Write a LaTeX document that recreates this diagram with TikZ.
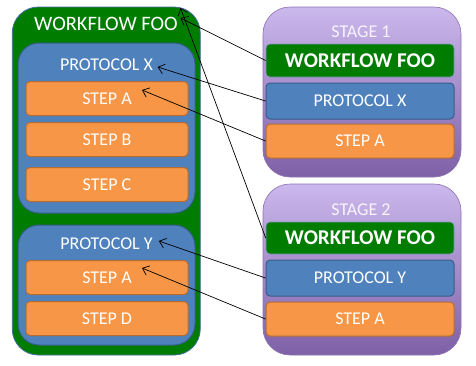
\documentclass[tikz,border=0pt]{standalone}
\usepackage{fontspec}
\setmainfont{Carlito}
\usetikzlibrary{arrows.meta}

\definecolor{wfgreen}{RGB}{0,125,0}
\definecolor{wfedge}{RGB}{70,110,160}
\definecolor{ptblue}{RGB}{79,129,189}
\definecolor{ptedge}{RGB}{56,93,138}
\definecolor{steporange}{RGB}{247,150,70}
\definecolor{stepedge}{RGB}{182,109,49}
\definecolor{stgtop}{RGB}{203,184,236}
\definecolor{stgbot}{RGB}{126,96,166}
\definecolor{stgedge}{RGB}{140,115,180}
\definecolor{stgtext}{RGB}{248,244,254}

\begin{document}
\begin{tikzpicture}[x=1pt,y=1pt,yscale=-1,
    wfbox/.style={draw=wfedge, fill=wfgreen, line width=0.8pt, rounded corners=26pt},
    protobox/.style={draw=ptedge, fill=ptblue, line width=1pt, rounded corners=21pt},
    stagebox/.style={draw=stgedge, top color=stgtop, bottom color=stgbot, line width=0.6pt, rounded corners=27pt},
    stepbox/.style={draw=stepedge, fill=steporange, line width=1pt, rounded corners=4pt,
        minimum height=34pt, text=white, font=\fontsize{18}{20}\selectfont},
    wfbar/.style={stepbox, draw=wfedge!70, fill=wfgreen, line width=0.6pt, font=\fontsize{21}{23}\selectfont\bfseries},
    protobar/.style={stepbox, draw=ptedge, fill=ptblue},
    title/.style={inner sep=0pt, text=white, font=\fontsize{18}{20}\selectfont},
    link/.style={draw=black, line width=0.7pt, -{Straight Barb[length=6pt,width=10pt]}}]
    \useasboundingbox (0,0) rectangle (476,365);

    %Workflow on the left
    \node [wfbox, minimum width=188pt, minimum height=348pt] (wf) at (106.25,181) {};
    \node [title, font=\fontsize{20.5}{22}\selectfont] (wftitle) at (106,24) {WORKFLOW FOO};

    %Protocol X with its steps
    \node [protobox, minimum width=177pt, minimum height=170pt] (px) at (106.5,128) {};
    \node [title] (pxtitle) at (106.5,65) {PROTOCOL X};
    \node [stepbox, minimum width=162pt] (xa) at (107,98.5) {STEP A};
    \node [stepbox, minimum width=162pt] (xb) at (107,139.5) {STEP B};
    \node [stepbox, minimum width=162pt] (xc) at (107,184.5) {STEP C};

    %Protocol Y with its steps
    \node [protobox, minimum width=177pt, minimum height=120pt] (py) at (106.5,285) {};
    \node [title] (pytitle) at (106.5,244) {PROTOCOL Y};
    \node [stepbox, minimum width=162pt] (ya) at (107,277.5) {STEP A};
    \node [stepbox, minimum width=162pt] (yd) at (107,318.5) {STEP D};

    %Stage 1
    \node [stagebox, minimum width=198pt, minimum height=170pt] (s1) at (362,92) {};
    \node [title, text=stgtext] (s1title) at (361,32) {STAGE 1};
    \node [wfbar, minimum width=188pt, minimum height=33pt] (s1wf) at (360,60.5) {WORKFLOW FOO};
    \node [protobar, minimum width=188pt, minimum height=36pt] (s1px) at (360,101) {PROTOCOL X};
    \node [stepbox, minimum width=188pt] (s1a) at (360,141) {STEP A};

    %Stage 2
    \node [stagebox, minimum width=198pt, minimum height=171pt] (s2) at (362,269.5) {};
    \node [title, text=stgtext] (s2title) at (361,210) {STAGE 2};
    \node [wfbar, minimum width=188pt, minimum height=32pt] (s2wf) at (360,238) {WORKFLOW FOO};
    \node [protobar, minimum width=188pt, minimum height=36pt] (s2py) at (360,278) {PROTOCOL Y};
    \node [stepbox, minimum width=188pt] (s2a) at (360,319) {STEP A};

    %Links back to the workflow
    \draw [link] (s1wf.west) -- ([xshift=2.5pt,yshift=-6pt]wftitle.east);
    \draw [link] (s2wf.west) -- ([xshift=2.5pt,yshift=-16pt]wftitle.east);
    \draw [link] (s1px.west) -- ([xshift=4.5pt,yshift=2pt]pxtitle.east);
    \draw [link] (s1a.west) -- ([xshift=35pt,yshift=-8.5pt]xa.center);
    \draw [link] (s2py.west) -- ([xshift=6pt,yshift=-3pt]pytitle.east);
    \draw [link] (s2a.west) -- ([xshift=35pt,yshift=-9.5pt]ya.center);

\end{tikzpicture}
\end{document}
